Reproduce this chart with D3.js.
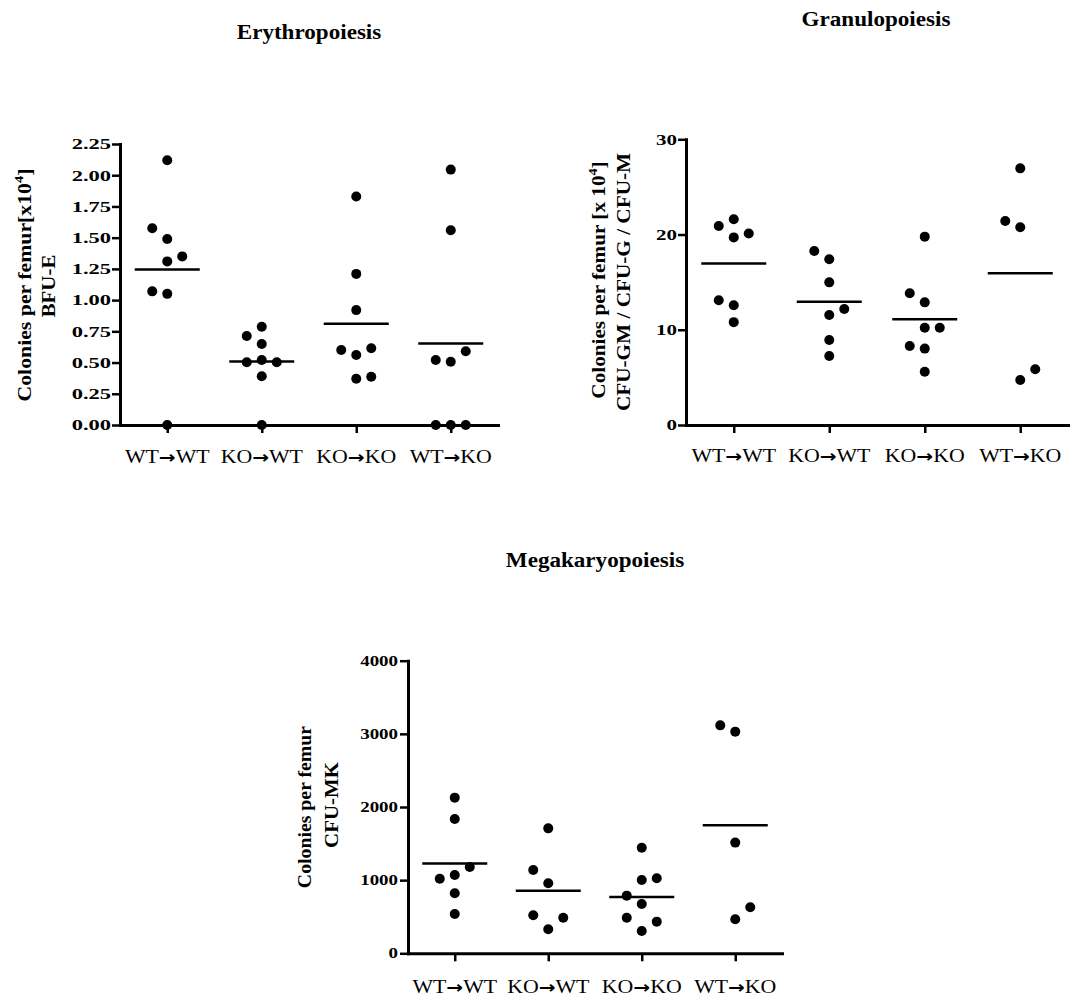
<!DOCTYPE html>
<html>
<head>
<meta charset="utf-8">
<title>Colony assays</title>
<script src="https://cdn.jsdelivr.net/npm/d3@7"></script>
<style>
  body { margin: 0; background: #fff; }
  text { font-family: "Liberation Serif", "Times New Roman", serif; fill: #000; }
</style>
</head>
<body>
<svg id="chart" width="1077" height="1001"></svg>
<script>
const groups = ["WT→WT", "KO→WT", "KO→KO", "WT→KO"];

// colonies per femur, one array per group (same order as groups)
const erythroValues = [
  [2.12, 1.49, 1.575, 1.31, 1.35, 1.05, 1.07, 0],
  [0.787, 0.649, 0.713, 0.52, 0.502, 0.502, 0.39, 0],
  [1.83, 1.21, 0.92, 0.56, 0.6, 0.614, 0.371, 0.387],
  [2.045, 1.56, 0.507, 0.52, 0.59, 0, 0, 0]
];
const granuloValues = [
  [21.6, 19.7, 20.9, 20.1, 12.57, 13.1, 10.8],
  [17.4, 18.27, 14.98, 11.55, 12.18, 8.93, 7.25],
  [19.78, 12.88, 13.83, 10.22, 10.22, 8.02, 8.3, 5.6],
  [26.95, 20.76, 21.42, 4.73, 5.85]
];
const megaValues = [
  [2128, 1836, 1071, 1020, 1180, 820, 538],
  [1708, 957, 1139, 328, 487, 519],
  [1444, 1002, 674, 788, 1025, 305, 433, 487],
  [3030, 3116, 1513, 465, 629]
];

const erythroTicks = [0, 0.25, 0.5, 0.75, 1, 1.25, 1.5, 1.75, 2, 2.25];
const granuloTicks = [0, 10, 20, 30];
const megaTicks = [0, 1000, 2000, 3000, 4000];

const svg = d3.select("#chart");
svg.append("rect").attr("width", 1077).attr("height", 1001).attr("fill", "#fff");

// simple column dodge: overlapping dots get pushed left/right
function dodge(vals, y, step, gap) {
  const placed = [];
  return vals.map(v => {
    const py = y(v);
    const hits = k => placed.some(p => p.k === k && Math.abs(p.py - py) < gap);
    const nearest = k => {
      const m = d3.min(placed.filter(p => p.k === k), p => Math.abs(p.py - py));
      return m === undefined ? Infinity : m;
    };
    let k = 0;
    if (hits(0)) {
      for (let lvl = 1; lvl < 4; lvl++) {
        const c = [-lvl, lvl].filter(s => !hits(s));
        if (c.length) {
          k = (c.length === 2 && nearest(lvl) > nearest(-lvl)) ? lvl : c[0];
          break;
        }
      }
    }
    placed.push({ py, k });
    return { v, py, dx: k * step };
  });
}

function rotLabel(g, x, y, sx, build) {
  const t = g.append("text")
    .attr("transform", `translate(${x},${y}) rotate(-90) scale(${sx},1)`)
    .attr("text-anchor", "middle")
    .attr("font-size", 18)
    .attr("font-weight", "bold");
  build(t);
}

function panel(o) {
  const x = d3.scalePoint().domain(groups).range(o.xr).padding(0.5);
  const y = d3.scaleLinear().domain([0, o.max]).range(o.yr);
  const g = svg.append("g");

  // y axis
  const ya = g.append("g")
    .attr("transform", `translate(${o.xr[0]},0)`)
    .call(d3.axisLeft(y).tickValues(o.ticks).tickFormat(o.fmt)
      .tickSize(8).tickSizeOuter(0).tickPadding(o.pad));
  ya.select(".domain").attr("stroke-width", 3).attr("stroke-linecap", "square");
  ya.selectAll(".tick line").attr("stroke-width", 2.5);
  ya.selectAll(".tick text")
    .attr("font-family", "Liberation Serif, Times New Roman, serif")
    .attr("font-size", o.tickFont)
    .attr("font-weight", "bold")
    .attr("x", -(8 + o.pad) / o.tickScale)
    .attr("transform", `scale(${o.tickScale},1)`);

  // x axis
  const xa = g.append("g")
    .attr("transform", `translate(0,${o.yr[0]})`)
    .call(d3.axisBottom(x).tickSize(8).tickSizeOuter(0).tickFormat(""));
  xa.select(".domain").attr("stroke-width", 3).attr("stroke-linecap", "square");
  xa.selectAll(".tick line").attr("stroke-width", 2.5);

  groups.forEach(name => {
    const parts = name.split("→");
    const t = g.append("text")
      .attr("transform", `translate(${x(name)},${o.labelY}) scale(1.18,1)`)
      .attr("text-anchor", "middle")
      .attr("font-size", 18.5);
    t.append("tspan").text(parts[0]);
    t.append("tspan")
      .attr("font-family", "DejaVu Sans")
      .attr("font-weight", "bold")
      .attr("font-size", 17)
      .text("→");
    t.append("tspan").text(parts[1]);
  });

  // dots + mean lines
  o.values.forEach((vals, i) => {
    const cx = x(groups[i]);
    const pts = dodge(vals, y, 15, 15);
    g.selectAll(null).data(pts).enter().append("circle")
      .attr("cx", d => cx + d.dx)
      .attr("cy", d => d.py)
      .attr("r", 5)
      .attr("fill", "#000");
    const m = y(d3.mean(vals));
    g.append("line")
      .attr("x1", cx - 32.5).attr("x2", cx + 32.5)
      .attr("y1", m).attr("y2", m)
      .attr("stroke", "#000").attr("stroke-width", 2.5);
  });

  // title
  g.append("text")
    .attr("transform", `translate(${o.titleX},${o.titleY}) scale(1.1,1)`)
    .attr("text-anchor", "middle")
    .attr("font-size", 21)
    .attr("font-weight", "bold")
    .text(o.title);

  o.ylab(g);
}

panel({
  title: "Erythropoiesis", titleX: 309, titleY: 39,
  values: erythroValues, ticks: erythroTicks, max: 2.25, fmt: d3.format(".2f"),
  xr: [120, 498], yr: [425, 144], labelY: 463,
  tickFont: 15, tickScale: 1.5, pad: 1,
  ylab: g => {
    rotLabel(g, 31, 285, 1.21, t => {
      t.append("tspan").text("Colonies per femur[x10");
      t.append("tspan").attr("font-size", 12).attr("dy", -8).text("4");
      t.append("tspan").attr("dy", 8).text("]");
    });
    rotLabel(g, 55, 286, 1.16, t => t.text("BFU-E"));
  }
});

panel({
  title: "Granulopoiesis", titleX: 876, titleY: 26,
  values: granuloValues, ticks: granuloTicks, max: 30, fmt: d3.format("d"),
  xr: [686, 1068], yr: [425, 139.3], labelY: 462,
  tickFont: 15, tickScale: 1.4, pad: 1,
  ylab: g => {
    rotLabel(g, 605, 280, 1.18, t => {
      t.append("tspan").text("Colonies per femur [x 10");
      t.append("tspan").attr("font-size", 12).attr("dy", -8).text("4");
      t.append("tspan").attr("dy", 8).text("]");
    });
    rotLabel(g, 630, 282, 1.18, t => t.text("CFU-GM / CFU-G / CFU-M"));
  }
});

panel({
  title: "Megakaryopoiesis", titleX: 595, titleY: 567,
  values: megaValues, ticks: megaTicks, max: 4000, fmt: d3.format("d"),
  xr: [408, 782], yr: [953.3, 660.7], labelY: 993,
  tickFont: 14, tickScale: 1.35, pad: 2,
  ylab: g => {
    rotLabel(g, 311, 807, 1.1, t => t.text("Colonies per femur"));
    rotLabel(g, 338, 805, 1.16, t => t.text("CFU-MK"));
  }
});
</script>
</body>
</html>
